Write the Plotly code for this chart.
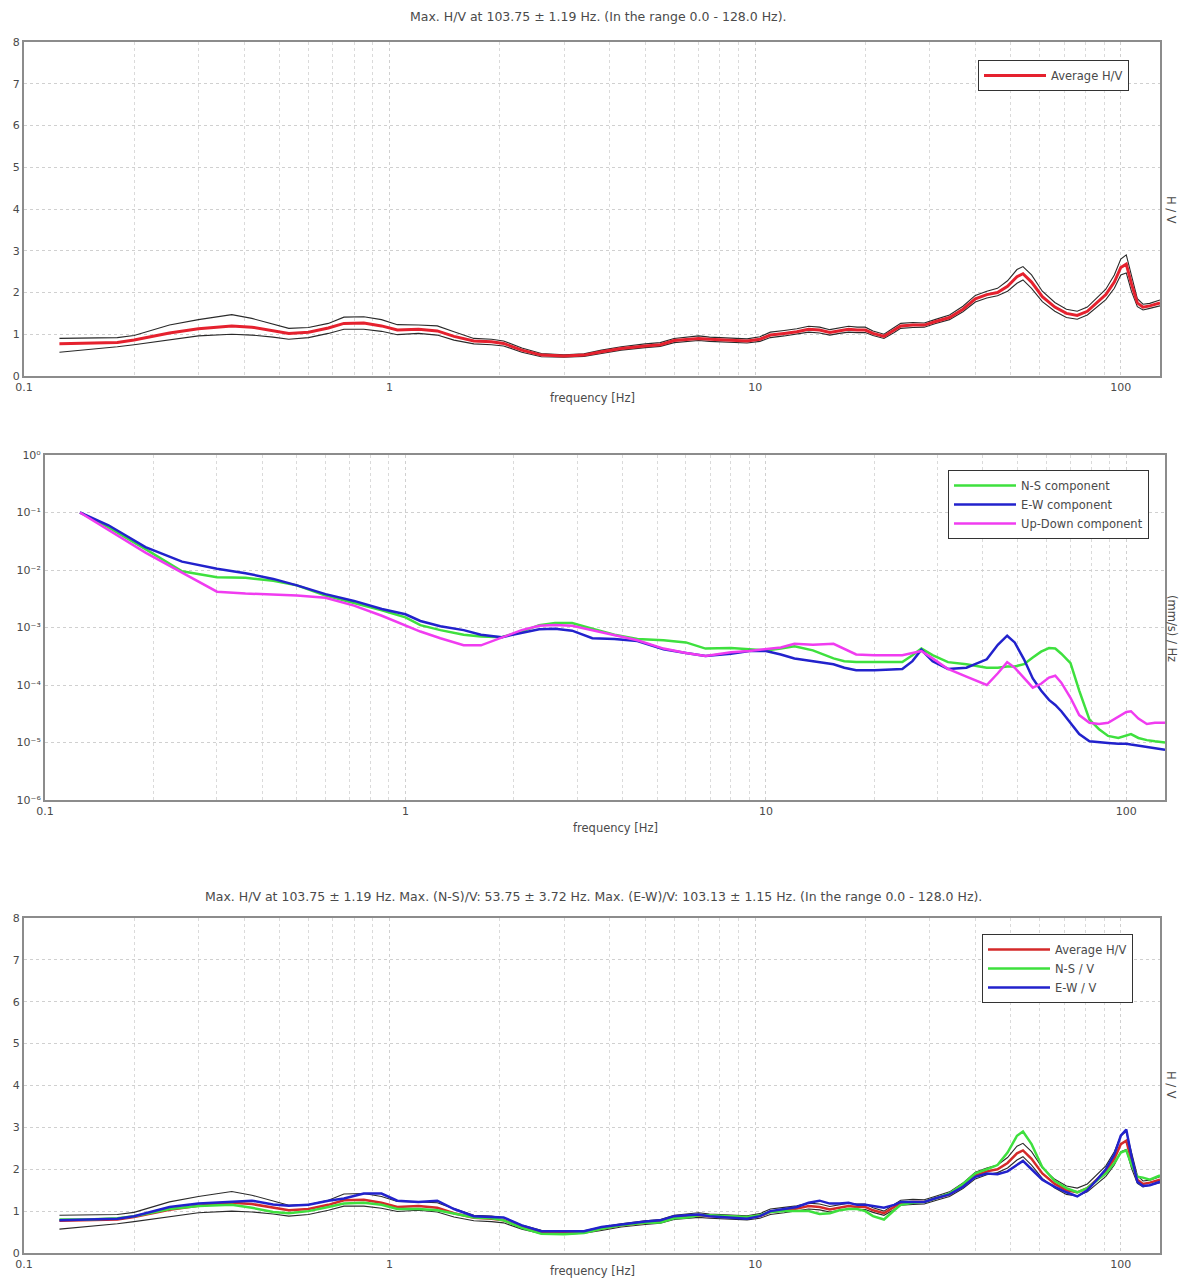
import math
import plotly.graph_objects as go

# ---------------- data ----------------
freq_hv = [0.125, 0.15, 0.18, 0.2, 0.22, 0.25, 0.3, 0.37, 0.42, 0.48, 0.53, 0.6, 0.68, 0.75, 0.85, 0.95,
           1.05, 1.2, 1.35, 1.5, 1.7, 1.9, 2.05, 2.3, 2.6, 3.0, 3.4, 3.8, 4.3, 5.0, 5.5, 6.0, 6.5, 7.0,
           7.5, 8.5, 9.5, 10.3, 11, 12, 13, 14, 15, 16, 17, 18, 19, 20, 21, 22.5, 24, 25, 27, 29, 31,
           34, 37, 40, 43, 46, 49, 52, 54, 57, 61, 66, 71, 76, 81, 86, 91, 96, 100, 103.5, 107, 111,
           115, 120, 128]

hv_avg = [0.77, 0.78, 0.8, 0.86, 0.93, 1.03, 1.13, 1.2, 1.17, 1.08, 1.02, 1.05, 1.15, 1.26, 1.27, 1.2,
          1.1, 1.12, 1.08, 0.95, 0.84, 0.82, 0.78, 0.62, 0.5, 0.48, 0.5, 0.58, 0.66, 0.72, 0.75, 0.85,
          0.88, 0.9, 0.88, 0.86, 0.84, 0.88, 0.98, 1.02, 1.06, 1.12, 1.1, 1.04, 1.08, 1.12, 1.1, 1.1,
          1.02, 0.95, 1.1, 1.2, 1.22, 1.22, 1.3, 1.4, 1.6, 1.85, 1.95, 2.0, 2.15, 2.38, 2.45, 2.25,
          1.9, 1.65, 1.5, 1.45, 1.55, 1.75, 1.95, 2.25, 2.6, 2.68, 2.2, 1.75, 1.65, 1.68, 1.75]

hv_upper = [0.9, 0.91, 0.92, 0.97, 1.07, 1.22, 1.35, 1.47, 1.38, 1.25, 1.14, 1.16, 1.26, 1.41, 1.42, 1.35,
            1.23, 1.22, 1.2, 1.06, 0.9, 0.88, 0.84, 0.67, 0.54, 0.51, 0.53, 0.62, 0.7, 0.77, 0.8, 0.9,
            0.93, 0.96, 0.93, 0.91, 0.89, 0.94, 1.05, 1.09, 1.13, 1.19, 1.17, 1.11, 1.15, 1.19, 1.17,
            1.17, 1.08, 1.0, 1.16, 1.26, 1.28, 1.27, 1.35, 1.46, 1.67, 1.93, 2.03, 2.1, 2.28, 2.55,
            2.62, 2.42, 2.03, 1.76, 1.6, 1.55, 1.65, 1.86, 2.08, 2.42, 2.8, 2.9, 2.38, 1.85, 1.72,
            1.74, 1.82]

hv_lower = [0.57, 0.63, 0.7, 0.75, 0.8, 0.88, 0.96, 1.0, 0.98, 0.93, 0.88, 0.92, 1.02, 1.12, 1.12, 1.07,
            0.99, 1.02, 0.98, 0.86, 0.77, 0.75, 0.72, 0.57, 0.46, 0.45, 0.47, 0.54, 0.62, 0.68, 0.71,
            0.8, 0.83, 0.85, 0.83, 0.81, 0.79, 0.83, 0.92, 0.96, 1.0, 1.05, 1.03, 0.98, 1.02, 1.05,
            1.04, 1.04, 0.97, 0.9, 1.04, 1.14, 1.16, 1.17, 1.25, 1.35, 1.54, 1.77, 1.87, 1.92, 2.03,
            2.22, 2.3, 2.1, 1.78, 1.55, 1.4, 1.36, 1.46, 1.64, 1.83, 2.1, 2.42, 2.47, 2.02, 1.66,
            1.58, 1.62, 1.68]

hv_ns = [0.8, 0.8, 0.83, 0.88, 0.95, 1.05, 1.12, 1.15, 1.08, 0.98, 0.95, 1.0, 1.1, 1.18, 1.2, 1.15,
         1.05, 1.05, 1.02, 0.95, 0.85, 0.83, 0.78, 0.6, 0.46, 0.45, 0.48, 0.58, 0.66, 0.72, 0.73, 0.83,
         0.85, 0.9, 0.9, 0.88, 0.86, 0.9, 0.98, 1.0, 1.0, 1.0, 0.93, 0.95, 1.02, 1.05, 1.05, 1.0, 0.88,
         0.8, 1.02, 1.15, 1.2, 1.22, 1.3, 1.42, 1.65, 1.9, 2.0, 2.1, 2.4, 2.8, 2.9, 2.6, 2.05, 1.72,
         1.55, 1.45, 1.55, 1.72, 1.9, 2.15, 2.4, 2.45, 2.1, 1.82, 1.8, 1.75, 1.85]

hv_ew = [0.78, 0.8, 0.82, 0.88, 0.98, 1.1, 1.18, 1.23, 1.25, 1.16, 1.13, 1.15, 1.25, 1.3, 1.42, 1.42,
         1.25, 1.22, 1.25, 1.05, 0.88, 0.86, 0.85, 0.66, 0.52, 0.52, 0.52, 0.62, 0.68, 0.75, 0.78,
         0.88, 0.9, 0.92, 0.88, 0.85, 0.82, 0.88, 1.0, 1.05, 1.1, 1.2, 1.25, 1.18, 1.18, 1.2, 1.15,
         1.15, 1.12, 1.08, 1.15, 1.22, 1.22, 1.22, 1.3, 1.4, 1.58, 1.82, 1.9, 1.88, 1.95, 2.1, 2.2,
         2.0, 1.75, 1.58, 1.45, 1.35, 1.5, 1.75, 2.0, 2.35, 2.8, 2.95, 2.3, 1.7, 1.6, 1.62, 1.7]

freq_sp = [0.125, 0.15, 0.19, 0.24, 0.3, 0.36, 0.43, 0.5, 0.6, 0.72, 0.86, 1.0, 1.1, 1.25, 1.45, 1.62,
           1.85, 2.1, 2.35, 2.6, 2.9, 3.3, 3.8, 4.4, 5.2, 6.0, 6.8, 8.0, 9.0, 10.0, 11.0, 12.0, 13.5,
           15.4, 16.5, 17.8, 20, 23.9, 25.5, 27, 29, 32, 36, 41, 44, 46.7, 49, 52, 55, 58, 61, 63.5,
           66, 70, 74, 79, 84, 89, 95, 100, 103, 108, 114, 120, 128]

sp_ns = [1e-1, 5.5e-2, 2.3e-2, 9.5e-3, 7.5e-3, 7.3e-3, 6.5e-3, 5.4e-3, 3.6e-3, 2.7e-3, 2.0e-3, 1.5e-3,
         1.1e-3, 9e-4, 7.5e-4, 7e-4, 6.8e-4, 8.5e-4, 1.1e-3, 1.2e-3, 1.2e-3, 9.5e-4, 7.5e-4, 6.3e-4,
         6e-4, 5.5e-4, 4.3e-4, 4.4e-4, 4.2e-4, 4e-4, 4.3e-4, 4.7e-4, 4e-4, 2.9e-4, 2.6e-4, 2.5e-4,
         2.5e-4, 2.5e-4, 3.3e-4, 4.3e-4, 3.3e-4, 2.5e-4, 2.3e-4, 2.0e-4, 2.0e-4, 2.1e-4, 2.1e-4,
         2.3e-4, 3.0e-4, 3.8e-4, 4.4e-4, 4.3e-4, 3.5e-4, 2.4e-4, 8e-5, 2.5e-5, 1.7e-5, 1.3e-5,
         1.2e-5, 1.3e-5, 1.4e-5, 1.2e-5, 1.1e-5, 1.05e-5, 1.0e-5]

sp_ew = [1e-1, 6e-2, 2.5e-2, 1.4e-2, 1.05e-2, 8.8e-3, 7e-3, 5.4e-3, 3.8e-3, 2.9e-3, 2.1e-3, 1.7e-3,
         1.3e-3, 1.05e-3, 9e-4, 7.5e-4, 6.8e-4, 8e-4, 9.3e-4, 9.5e-4, 8.8e-4, 6.5e-4, 6.3e-4, 5.8e-4,
         4.2e-4, 3.6e-4, 3.2e-4, 3.5e-4, 3.9e-4, 3.9e-4, 3.4e-4, 2.9e-4, 2.6e-4, 2.3e-4, 2.0e-4,
         1.8e-4, 1.8e-4, 1.9e-4, 2.6e-4, 4.1e-4, 2.6e-4, 1.9e-4, 2.0e-4, 2.8e-4, 5.0e-4, 7.2e-4,
         5.5e-4, 2.8e-4, 1.3e-4, 8e-5, 5.5e-5, 4.5e-5, 3.5e-5, 2.2e-5, 1.4e-5, 1.05e-5, 1.0e-5,
         9.8e-6, 9.5e-6, 9.5e-6, 9.2e-6, 8.8e-6, 8.2e-6, 7.8e-6, 7.5e-6]

sp_ud = [1e-1, 5e-2, 2e-2, 9e-3, 4.2e-3, 3.9e-3, 3.7e-3, 3.6e-3, 3.3e-3, 2.4e-3, 1.6e-3, 1.1e-3,
         8.5e-4, 6.5e-4, 4.9e-4, 4.9e-4, 6.6e-4, 9e-4, 1.07e-3, 1.1e-3, 1.07e-3, 9e-4, 7.5e-4, 6e-4,
         4.3e-4, 3.6e-4, 3.2e-4, 3.7e-4, 3.9e-4, 4.2e-4, 4.5e-4, 5.2e-4, 5.0e-4, 5.2e-4, 4.3e-4,
         3.4e-4, 3.3e-4, 3.3e-4, 3.6e-4, 3.9e-4, 2.9e-4, 1.9e-4, 1.4e-4, 1.0e-4, 1.6e-4, 2.5e-4,
         2.0e-4, 1.3e-4, 9e-5, 1.05e-4, 1.35e-4, 1.45e-4, 1.1e-4, 6e-5, 3e-5, 2.2e-5, 2.1e-5,
         2.2e-5, 2.8e-5, 3.4e-5, 3.5e-5, 2.6e-5, 2.1e-5, 2.2e-5, 2.2e-5]

x_tickvals = [0.1, 1, 10, 100]
x_ticktext = ["0.1", "1", "10", "100"]
x_minorvals = [0.2, 0.3, 0.4, 0.5, 0.6, 0.7, 0.8, 0.9, 2, 3, 4, 5, 6, 7, 8, 9,
               20, 30, 40, 50, 60, 70, 80, 90]
hv_tickvals = [0, 1, 2, 3, 4, 5, 6, 7, 8]
sp_tickvals = [1e-6, 1e-5, 1e-4, 1e-3, 1e-2, 1e-1, 1]
sp_ticktext = ["10⁻⁶", "10⁻⁵", "10⁻⁴", "10⁻³", "10⁻²", "10⁻¹", "10⁰"]

title_top = "Max. H/V at 103.75 ± 1.19 Hz. (In the range 0.0 - 128.0 Hz)."
title_bottom = ("Max. H/V at 103.75 ± 1.19 Hz. Max. (N-S)/V: 53.75 ± 3.72 Hz. "
                "Max. (E-W)/V: 103.13 ± 1.15 Hz. (In the range 0.0 - 128.0 Hz).")

# ---------------- figure ----------------
# the page body has an 8 px margin, so the figure is placed at (8, 8)
OFF = 8
W, H = 1189 - 2 * OFF, 1288 - 2 * OFF
FONT = "DejaVu Sans, Liberation Sans, sans-serif"
TXT = "#4a4a4a"
RED = "#e5212e"
RED3 = "#d42a2a"
GREEN = "#3ee03e"
BLUE = "#2222cc"
MAGENTA = "#f03cf0"
STD = "#2a2a2a"
TICK_FS = 11
LAB_FS = 11.5
TITLE_FS = 12.5


def px(x):
    return (x - OFF) / W


def py(y):
    return 1 - (y - OFF) / H


fig = go.Figure()

# panel 1
fig.add_trace(go.Scatter(x=freq_hv, y=hv_upper, mode="lines", line=dict(color=STD, width=1.1),
                         xaxis="x", yaxis="y", showlegend=False, hoverinfo="skip"))
fig.add_trace(go.Scatter(x=freq_hv, y=hv_lower, mode="lines", line=dict(color=STD, width=1.1),
                         xaxis="x", yaxis="y", showlegend=False, hoverinfo="skip"))
fig.add_trace(go.Scatter(x=freq_hv, y=hv_avg, mode="lines", name="Average H/V",
                         line=dict(color=RED, width=3), xaxis="x", yaxis="y", legend="legend"))

# panel 2
fig.add_trace(go.Scatter(x=freq_sp, y=sp_ns, mode="lines", name="N-S component",
                         line=dict(color=GREEN, width=2.5), xaxis="x2", yaxis="y2", legend="legend2"))
fig.add_trace(go.Scatter(x=freq_sp, y=sp_ew, mode="lines", name="E-W component",
                         line=dict(color=BLUE, width=2.5), xaxis="x2", yaxis="y2", legend="legend2"))
fig.add_trace(go.Scatter(x=freq_sp, y=sp_ud, mode="lines", name="Up-Down component",
                         line=dict(color=MAGENTA, width=2.5), xaxis="x2", yaxis="y2", legend="legend2"))

# panel 3
fig.add_trace(go.Scatter(x=freq_hv, y=hv_upper, mode="lines", line=dict(color=STD, width=1.1),
                         xaxis="x3", yaxis="y3", showlegend=False, hoverinfo="skip"))
fig.add_trace(go.Scatter(x=freq_hv, y=hv_lower, mode="lines", line=dict(color=STD, width=1.1),
                         xaxis="x3", yaxis="y3", showlegend=False, hoverinfo="skip"))
fig.add_trace(go.Scatter(x=freq_hv, y=hv_avg, mode="lines", name="Average H/V",
                         line=dict(color=RED3, width=2.5), xaxis="x3", yaxis="y3", legend="legend3"))
fig.add_trace(go.Scatter(x=freq_hv, y=hv_ns, mode="lines", name="N-S / V",
                         line=dict(color=GREEN, width=2.5), xaxis="x3", yaxis="y3", legend="legend3"))
fig.add_trace(go.Scatter(x=freq_hv, y=hv_ew, mode="lines", name="E-W / V",
                         line=dict(color=BLUE, width=2.5), xaxis="x3", yaxis="y3", legend="legend3"))

tickfont = dict(size=TICK_FS, color=TXT, family=FONT)


def xaxis(left, right, anchor):
    return dict(type="log", range=[-1, math.log10(128)], domain=[px(left), px(right)], anchor=anchor,
                tickvals=x_tickvals, ticktext=x_ticktext, ticks="",
                showgrid=True, gridcolor="#d0d0d0", griddash="dot", gridwidth=1,
                minor=dict(tickvals=x_minorvals, showgrid=True, gridcolor="#dadada",
                           griddash="dot", gridwidth=1, ticks=""),
                showline=True, mirror=True, linecolor="#8c8c8c", linewidth=2,
                zeroline=False, tickfont=tickfont, automargin=False)


def ydom(top, bottom):
    return [py(bottom), py(top)]


hv_y = dict(range=[0, 8], tickvals=hv_tickvals, ticks="", showgrid=True, gridcolor="#d0d0d0",
            griddash="dot", gridwidth=1, showline=True, mirror=True, linecolor="#8c8c8c",
            linewidth=2, zeroline=False, tickfont=tickfont, automargin=False)

legend_style = dict(xanchor="left", yanchor="top", bgcolor="white", bordercolor="#333333",
                    borderwidth=1, font=dict(size=LAB_FS, color=TXT, family=FONT),
                    tracegroupgap=0, itemwidth=62)

fig.update_layout(
    width=W, height=H,
    margin=dict(l=0, r=0, t=0, b=0),
    paper_bgcolor="white", plot_bgcolor="white",
    font=dict(family=FONT, size=LAB_FS, color=TXT),
    xaxis=xaxis(24, 1160, "y"),
    yaxis=dict(hv_y, domain=ydom(42, 376), anchor="x"),
    xaxis2=xaxis(45, 1165, "y2"),
    yaxis2=dict(type="log", range=[-6, 0], domain=ydom(455, 800), anchor="x2",
                tickvals=sp_tickvals, ticktext=sp_ticktext, ticks="",
                showgrid=True, gridcolor="#d0d0d0", griddash="dot", gridwidth=1,
                showline=True, mirror=True, linecolor="#8c8c8c", linewidth=2, zeroline=False,
                tickfont=tickfont, automargin=False),
    xaxis3=xaxis(24, 1160, "y3"),
    yaxis3=dict(hv_y, domain=ydom(918, 1253), anchor="x3"),
    legend=dict(legend_style, x=px(978), y=py(60)),
    legend2=dict(legend_style, x=px(948), y=py(470)),
    legend3=dict(legend_style, x=px(982), y=py(934)),
)

annotations = [
    dict(text=title_top, x=598, y=17, size=TITLE_FS, angle=0),
    dict(text=title_bottom, x=593, y=896, size=TITLE_FS, angle=0),
    dict(text="frequency [Hz]", x=592, y=398, size=LAB_FS, angle=0),
    dict(text="frequency [Hz]", x=615, y=828, size=LAB_FS, angle=0),
    dict(text="frequency [Hz]", x=592, y=1271, size=LAB_FS, angle=0),
    dict(text="H / V", x=1171, y=210, size=LAB_FS, angle=90),
    dict(text="(mm/s) / Hz", x=1172, y=628, size=LAB_FS, angle=90),
    dict(text="H / V", x=1171, y=1085, size=LAB_FS, angle=90),
]
for a in annotations:
    fig.add_annotation(xref="paper", yref="paper", showarrow=False,
                       font=dict(size=a["size"], color=TXT, family=FONT),
                       xanchor="center", yanchor="middle", textangle=a["angle"],
                       text=a["text"], x=px(a["x"]), y=py(a["y"]))

fig.write_html("out.html")
